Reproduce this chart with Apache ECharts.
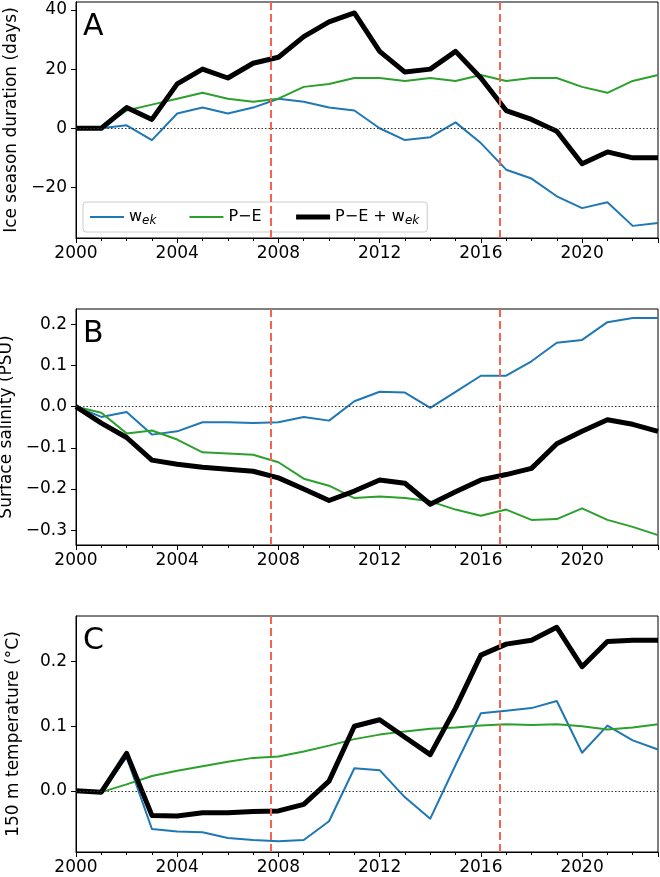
<!DOCTYPE html>
<html>
<head>
<meta charset="utf-8">
<script src="https://cdn.jsdelivr.net/npm/echarts@6/dist/echarts.min.js"></script>
<style>
html,body{margin:0;padding:0;background:#fff;}
#chart{width:660px;height:877px;}
</style>
</head>
<body>
<div id="chart"></div>
<script>
// ---- data ----
const years = [2000,2001,2002,2003,2004,2005,2006,2007,2008,2009,2010,2011,2012,2013,2014,2015,2016,2017,2018,2019,2020,2021,2022,2023];
const seriesNames = ['wek', 'P\u2212E', 'P\u2212E + wek'];
const eventYears = [2007.7, 2016.76];
const panelLetters = ['A', 'B', 'C'];
const axisTitles = ['Ice season duration (days)', 'Surface salinity (PSU)', '150 m temperature (\u00b0C)'];

// Panel A: ice season duration (days)
const iceWek = [0,0,1,-4,5,7,5,7,10,9,7,6,0,-4,-3,2,-5,-14,-17,-23,-27,-25,-33,-32];
const icePE  = [0,0,6,8,10,12,10,9,10,14,15,17,17,16,17,16,18,16,17,17,14,12,16,18];
const iceSum = [0,0,7,3,15,20,17,22,24,31,36,39,26,19,20,26,17,6,3,-1,-12,-8,-10,-10];

// Panel B: surface salinity (PSU)
const salWek = [0,-0.025,-0.013,-0.068,-0.060,-0.038,-0.038,-0.040,-0.038,-0.025,-0.034,0.013,0.036,0.034,-0.003,0.036,0.075,0.075,0.110,0.155,0.162,0.205,0.215,0.215];
const salPE  = [0,-0.015,-0.065,-0.058,-0.080,-0.111,-0.114,-0.117,-0.135,-0.175,-0.192,-0.222,-0.218,-0.222,-0.230,-0.250,-0.265,-0.250,-0.275,-0.273,-0.247,-0.275,-0.292,-0.312];
const salSum = [0,-0.040,-0.075,-0.130,-0.140,-0.147,-0.152,-0.157,-0.173,-0.200,-0.228,-0.205,-0.178,-0.186,-0.237,-0.207,-0.178,-0.165,-0.150,-0.090,-0.060,-0.032,-0.043,-0.060];

// Panel C: 150 m temperature (°C)
const tWek = [0,-0.002,0.052,-0.059,-0.063,-0.064,-0.073,-0.076,-0.078,-0.076,-0.047,0.035,0.032,-0.010,-0.043,0.040,0.120,0.124,0.128,0.139,0.059,0.101,0.078,0.064];
const tPE  = [0,-0.002,0.010,0.023,0.031,0.038,0.045,0.051,0.053,0.061,0.070,0.080,0.087,0.092,0.096,0.098,0.101,0.103,0.102,0.103,0.100,0.095,0.098,0.103];
const tSum = [0,-0.002,0.058,-0.038,-0.039,-0.034,-0.034,-0.032,-0.031,-0.021,0.015,0.100,0.110,0.083,0.056,0.128,0.210,0.227,0.233,0.253,0.192,0.231,0.233,0.233];

const panels = [
  {wek: iceWek, pe: icePE, sum: iceSum, min: -37.1, max: 42.7, dec: 0},
  {wek: salWek, pe: salPE, sum: salSum, min: -0.336, max: 0.237, dec: 1},
  {wek: tWek, pe: tPE, sum: tSum, min: -0.0946, max: 0.2705, dec: 1}
];

// ---- layout / style ----
const FONT = 'DejaVu Sans';
const gridTops = [2, 309, 616];
const gridH = 236;
const colors = ['#1f77b4', '#2ca02c', '#000000'];
const widths = [2, 2, 5];

const pair = arr => years.map((y, i) => [y, arr[i]]);
const fmt = (v, dec) => {
  const r = Math.round(v * 1000) / 1000;
  const s = Math.abs(r).toFixed(dec);
  return (r < 0 ? '\u2212' : '') + s;
};

const grids = [], xAxes = [], yAxes = [], series = [], graphics = [];
panels.forEach((p, k) => {
  grids.push({left: 76, right: 2, top: gridTops[k], height: gridH, show: true,
    containLabel: false, outerBoundsMode: 'none',
    borderColor: '#000', borderWidth: 1, backgroundColor: 'transparent'});
  xAxes.push({
    type: 'value', gridIndex: k, min: 2000, max: 2023, interval: 4,
    axisLine: {show: true, onZero: false, lineStyle: {color: '#000', width: 1}},
    axisTick: {show: true, inside: false, length: 5, lineStyle: {color: '#000'}},
    minorTick: {show: true, splitNumber: 4, length: 3, lineStyle: {color: '#000'}},
    splitLine: {show: false},
    axisLabel: {color: '#000', fontFamily: FONT, fontSize: 17, margin: 7,
      showMaxLabel: false, formatter: v => String(v)}
  });
  yAxes.push({
    type: 'value', gridIndex: k, min: p.min, max: p.max, scale: true,
    name: axisTitles[k], nameLocation: 'middle', nameGap: 54,
    nameTextStyle: {color: '#000', fontFamily: FONT, fontSize: 17},
    axisLine: {show: true, onZero: false, lineStyle: {color: '#000', width: 1}},
    axisTick: {show: true, inside: false, length: 5, lineStyle: {color: '#000'}},
    splitLine: {show: false},
    axisLabel: {color: '#000', fontFamily: FONT, fontSize: 17, margin: 9,
      showMinLabel: false, showMaxLabel: false,
      formatter: v => fmt(v, p.dec)}
  });
  // reference lines
  series.push({
    type: 'line', xAxisIndex: k, yAxisIndex: k, data: [], silent: true, z: 1,
    markLine: {
      silent: true, symbol: 'none', animation: false, label: {show: false},
      data: [
        {yAxis: 0, lineStyle: {color: '#333', width: 1.2, type: [1.5, 2]}},
        ...eventYears.map(x => ({xAxis: x, lineStyle: {color: '#f4644f', width: 2, type: [8, 4]}}))
      ]
    }
  });
  [p.wek, p.pe, p.sum].forEach((arr, j) => {
    series.push({
      name: seriesNames[j], type: 'line', xAxisIndex: k, yAxisIndex: k,
      data: pair(arr), symbol: 'none', animation: false, z: 2 + j,
      lineStyle: {color: colors[j], width: widths[j], join: 'round'},
      itemStyle: {color: colors[j]}
    });
  });
  graphics.push({type: 'text', left: 83, top: gridTops[k] + 10,
    style: {text: panelLetters[k], fontFamily: FONT, fontSize: 30, fill: '#000'}});
});

const chart = echarts.init(document.getElementById('chart'), null, {renderer: 'canvas'});
chart.setOption({
  backgroundColor: '#fff',
  animation: false,
  grid: grids, xAxis: xAxes, yAxis: yAxes, series: series, graphic: graphics,
  legend: {
    data: seriesNames.map((n, j) => ({name: n, lineStyle: {color: colors[j], width: widths[j]}})),
    left: 83, top: 202, orient: 'horizontal',
    itemWidth: 34, itemHeight: 14, itemGap: 32,
    itemStyle: {opacity: 0},
    backgroundColor: 'rgba(255,255,255,0.8)', borderColor: '#ccc', borderWidth: 1,
    borderRadius: 3, padding: [5, 8, 5, 6],
    selectedMode: false,
    formatter: name => name.replace('wek', 'w{sub|ek}'),
    textStyle: {color: '#000', fontFamily: FONT, fontSize: 16, lineHeight: 20,
      rich: {sub: {fontFamily: FONT, fontSize: 12, fontStyle: 'italic', verticalAlign: 'bottom', lineHeight: 14, padding: [6, 0, 0, 0], color: '#000'}}}
  }
});
</script>
</body>
</html>
